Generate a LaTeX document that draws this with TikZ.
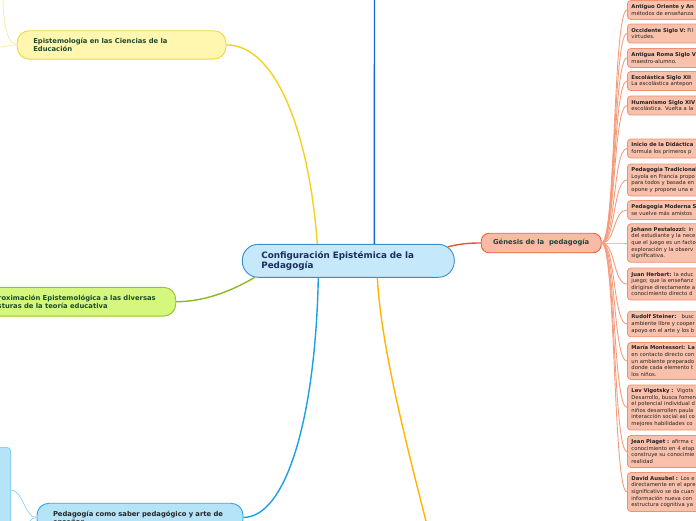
\documentclass[tikz,border=0pt]{standalone}
\usepackage{fontspec}
\setmainfont{DejaVu Sans}
\usetikzlibrary{calc}

\definecolor{cfill}{HTML}{C5E8FA}
\definecolor{cdraw}{HTML}{3C8DCB}
\definecolor{ctext}{HTML}{1B2D5C}
\definecolor{gfill}{HTML}{F9BBA6}
\definecolor{gdraw}{HTML}{E9603A}
\definecolor{gline}{HTML}{E9552E}
\definecolor{gtext}{HTML}{1F4638}
\definecolor{bfill}{HTML}{F9C0AB}
\definecolor{bdraw}{HTML}{F1906E}
\definecolor{fanline}{HTML}{F69C7C}
\definecolor{yfill}{HTML}{FFF7B0}
\definecolor{ydraw}{HTML}{F0D73A}
\definecolor{yline}{HTML}{F2D21E}
\definecolor{ylight}{HTML}{F8EA9C}
\definecolor{lfill}{HTML}{D5F77E}
\definecolor{ldraw}{HTML}{93C325}
\definecolor{lline}{HTML}{8CB822}
\definecolor{pfill}{HTML}{B5E3F8}
\definecolor{pdraw}{HTML}{2DA6E2}
\definecolor{pline}{HTML}{1AA0E6}
\definecolor{plight}{HTML}{8AD2F2}
\definecolor{vblue}{HTML}{1464D4}
\definecolor{orng}{HTML}{FFB400}
\definecolor{btext}{HTML}{222222}
\definecolor{brtext}{HTML}{1E4A30}

\begin{document}
\begin{tikzpicture}[x=1pt,y=-1pt,
  centerbox/.style={draw=cdraw, fill=cfill, line width=0.9pt, rounded corners=16pt,
    minimum height=33pt, text width=174pt, inner xsep=19pt, inner ysep=0pt, align=left,
    font=\bfseries\fontsize{8.8}{10.7}\selectfont, text=ctext},
  genbox/.style={draw=gdraw, fill=gfill, line width=0.9pt, rounded corners=8pt,
    minimum width=120pt, minimum height=19.5pt, inner sep=0pt,
    font=\bfseries\fontsize{6.8}{8}\selectfont, text=gtext},
  branchbox/.style={line width=0.9pt, rounded corners=12pt, inner xsep=16pt, inner ysep=0pt,
    align=left, font=\bfseries\fontsize{6.8}{7.9}\selectfont, text=brtext},
  rbox/.style={draw=bdraw, fill=bfill, line width=0.8pt, rounded corners=3.5pt, anchor=west,
    text width=150pt, inner xsep=4pt, inner ysep=0pt, align=left,
    font=\fontsize{5.3}{6.6}\selectfont, text=btext},
  fan/.style={draw=fanline, line width=0.9pt},
  mainline/.style={line width=1.4pt},
  thinline/.style={line width=0.7pt}
]
\useasboundingbox (0,0) rectangle (696,520);
\clip (0,0) rectangle (696,520);

% central node
\node[centerbox] (c) at (348.3,260.8) {Configuración Epistémica de la\\Pedagogía};

% Génesis
\node[genbox] (g) at (541.2,243) {Génesis de la\ \ pedagogía};

% main branches
\node[branchbox, draw=ydraw, fill=yfill, text width=176.7pt, minimum height=28.3pt] (ep) at (121.6,44.9)
  {Epistemología en las Ciencias de la\\Educación};
\node[branchbox, draw=ldraw, fill=lfill, text width=171.7pt, minimum height=28.7pt] (ap) at (73.9,301.7)
  {Aproximación Epistemológica a las diversas\\Posturas de la teoría educativa};
\node[branchbox, draw=pdraw, fill=pfill, text width=174pt, minimum height=28.3pt, text=black!85] (pd) at (140,517.4)
  {Pedagogía como saber pedagógico y arte de\\enseñar};
\node[draw=plight, fill=pfill, line width=0.8pt, rounded corners=3.5pt, minimum width=40pt,
  minimum height=100pt, inner sep=0pt, anchor=north east] (lb) at (11,447) {};

% right column boxes
\node[rbox, minimum height=19pt] (b1) at (627,10) {\textbf{Antiguo Oriente y An}\\métodos de enseñanza};
\node[rbox, minimum height=19pt] (b2) at (627,33.5) {\textbf{Occidente Siglo V:} Fil\\virtudes.};
\node[rbox, minimum height=19pt] (b3) at (627,58) {\textbf{Antigua Roma Siglo V}\\maestro-alumno.};
\node[rbox, minimum height=19pt] (b4) at (627,81) {\textbf{Escolástica Siglo XII}\\La escolástica antepon};
\node[rbox, minimum height=19pt] (b5) at (627,105.5) {\textbf{Humanismo Siglo XIV}\\escolástica. Vuelta a la};
\node[rbox, minimum height=19pt] (b6) at (627,148.5) {\textbf{Inicio de la Didáctica}\\formula los primeros p};
\node[rbox, minimum height=32pt] (b7) at (627,180) {\textbf{Pedagogía Tradicional}\\Loyola en Francia propo\\para todos y basada en\\opone y propone una e};
\node[rbox, minimum height=19pt] (b8) at (627,210) {\textbf{Pedagogía Moderna S}\\se vuelve más amistos};
\node[rbox, minimum height=38.5pt] (b9) at (627,243) {\textbf{Johann Pestalozzi:} In\\del estudiante y la nece\\que el juego es un factor\\exploración y la observ\\significativa.};
\node[rbox, minimum height=32pt] (b10) at (627,284) {\textbf{Juan Herbart:} la educ\\juego; que la enseñanz\\dirigirse directamente a\\conocimiento directo d};
\node[rbox, minimum height=25.5pt] (b11) at (627,324) {\textbf{Rudolf Steiner:}\ \ \ busc\\ambiente libre y cooper\\apoyo en el arte y los b};
\node[rbox, minimum height=37pt] (b12) at (627,361) {\textbf{María Montessori: La}\\en contacto directo con\\un ambiente preparado\\donde cada elemento t\\los niños.};
\node[rbox, minimum height=45pt] (b13) at (627,407.5) {\textbf{Lev Vigotsky :}\ \ Vigots\\Desarrollo, busca fomen\\el potencial individual d\\niños desarrollen paula\\interacción social así co\\mejores habilidades co};
\node[rbox, minimum height=32pt] (b14) at (627,451.5) {\textbf{Jean Piaget :} afirma c\\conocimiento en 4 etap\\construye su conocimie\\realidad};
\node[rbox, minimum height=39pt] (b15) at (627,492) {\textbf{David Ausubel :} Los e\\directamente en el apre\\significativo se da cuan\\información nueva con\\estructura cognitiva ya};

% fan connectors
\foreach \i in {1,...,15}
  \draw[fan] (g.east) .. controls +(14,0) and +(-14,0) .. (b\i.west);

% free ends
\coordinate (vt) at (374.5,-3);
\coordinate (ob) at (427,525);
\coordinate (y1) at (-5,47.5);
\coordinate (y2) at (3,-3);
\coordinate (pd2) at (22,532);

% main connectors
\draw[mainline, gline] ($(c.north east)+(-7,3)$) .. controls +(12,-3) and +(-12,0) .. (g.west);
\draw[mainline, yline] ($(c.north)+(-31,0)$) .. controls +(-8,-110) and +(50,0) .. (ep.east);
\draw[mainline, vblue] ($(c.north)+(26,0)$) -- (vt);
\draw[mainline, orng] ($(c.south)+(29,0)$) .. controls (381,340) and (400,420) .. (ob);
\draw[mainline, lline] ($(c.south west)+(13,-0.5)$) .. controls +(-20,12) and +(30,0) .. (ap.east);
\draw[mainline, pline] ($(c.south)+(-30,0)$) .. controls +(-3,143) and +(42,0) .. (pd.east);

% thin child connectors
\draw[thinline, ylight] (ep.west) .. controls +(-8,0) and +(8,0) .. (y1);
\draw[thinline, ylight] (ep.west) .. controls +(-10,-1) and +(0,25) .. (y2);
\draw[thinline, plight] (pd.west) .. controls +(-12,0) and +(12,0) .. ($(lb.north east)+(0,43)$);
\draw[thinline, plight] (pd.west) .. controls +(-6,0) and +(4,-6) .. (pd2);
\end{tikzpicture}
\end{document}
